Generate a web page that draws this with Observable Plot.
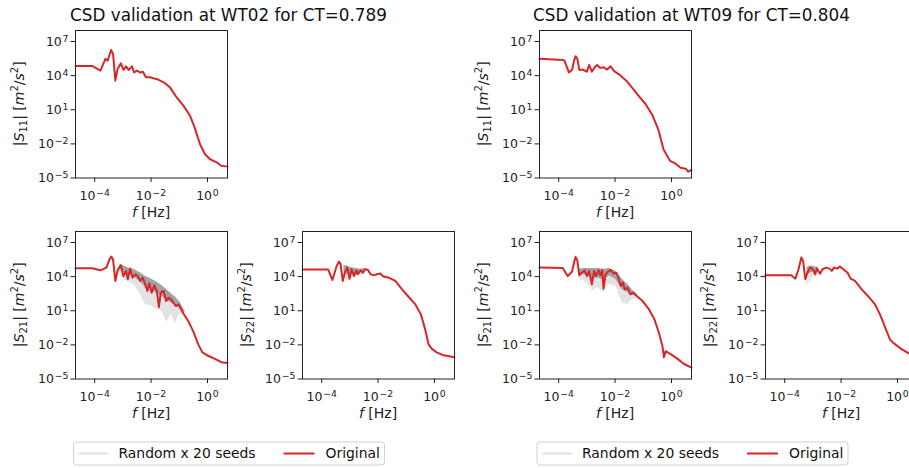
<!DOCTYPE html>
<html>
<head>
<meta charset="utf-8">
<script src="https://cdn.jsdelivr.net/npm/d3@7"></script>
<script src="https://cdn.jsdelivr.net/npm/@observablehq/plot@0.6"></script>
<style>
  html, body { margin: 0; padding: 0; background: #fff; }
  #root { position: relative; width: 909px; height: 468px; overflow: hidden; background: #fff; font-family: "DejaVu Sans", sans-serif; }
  #root svg { position: absolute; }
</style>
</head>
<body>
<div id="root"></div>
<script>
// ---------------- data ----------------
const titles = ["CSD validation at WT02 for CT=0.789", "CSD validation at WT09 for CT=0.804"];
const legendLabels = ["Random x 20 seeds", "Original"];
const xTickValues = [1e-4, 1e-2, 1e0];
const yTickValues = [1e-5, 1e-2, 1e1, 1e4, 1e7];
const xDomain = [2.09e-5, 5.13];
const yDomain = [1e-5, 9.3e7];

// WT02 |S11|
const wt02_s11_f = [2.09e-5, 8.1e-5, 1.6e-4, 2.4e-4, 2.9e-4, 3.8e-4, 4.5e-4, 5.4e-4, 6.5e-4, 8.5e-4, 1.05e-3, 1.3e-3, 1.6e-3, 2.1e-3, 2.5e-3, 3.1e-3, 4.1e-3, 5.1e-3, 6.6e-3, 9.1e-3, 1.2e-2, 1.8e-2, 2.8e-2, 4.7e-2, 8.1e-2, 0.14, 0.24, 0.35, 0.54, 0.81, 1.2, 2.1, 3.1, 5.13];
const wt02_s11 = [7.1e4, 7.1e4, 2.8e4, 3.0e5, 2.1e5, 1.8e6, 7.9e5, 3.6e3, 3.9e4, 1.2e5, 3.2e4, 6.6e4, 3.2e4, 6.6e4, 1.9e4, 2.8e4, 1.9e4, 2.2e4, 7.1e3, 7.1e3, 5.9e3, 4.5e3, 2.6e3, 9.3e2, 1.2e2, 23, 3.0, 0.28, 9.8e-3, 1.3e-3, 4.7e-4, 2.4e-4, 1.2e-4, 1.0e-4];

// WT02 |S21|
const wt02_s21_f = [2.09e-5, 8.1e-5, 1.6e-4, 2.6e-4, 3.4e-4, 3.9e-4, 4.5e-4, 5.4e-4, 6.5e-4, 8.5e-4, 1.05e-3, 1.3e-3, 1.5e-3, 1.8e-3, 2.2e-3, 2.8e-3, 3.4e-3, 4.1e-3, 5.1e-3, 6.2e-3, 7.4e-3, 8.7e-3, 1.05e-2, 1.3e-2, 1.6e-2, 1.9e-2, 2.2e-2, 2.8e-2, 3.4e-2, 4.1e-2, 5.1e-2, 6.2e-2, 7.6e-2, 9.5e-2, 0.14, 0.21, 0.31, 0.47, 0.66, 1.05, 2.1, 3.1, 5.13];
const wt02_s21 = [5.5e4, 5.5e4, 3.6e4, 6.2e4, 3.4e5, 5.8e5, 3.0e5, 4.2e3, 3.6e4, 1.0e5, 1.1e4, 3.2e4, 5.8e3, 5.1e4, 8.1e3, 1.6e4, 1.1e4, 4.2e3, 8.1e3, 2.1e3, 5.5e2, 2.6e3, 3.9e2, 1.7e3, 5.5e2, 21, 3.9e2, 5.5e2, 71, 1.4e2, 1.0e2, 51, 26, 36, 5.8, 1.2, 0.16, 1.1e-2, 2.2e-3, 1.1e-3, 5.1e-4, 3.0e-4, 2.6e-4];
const wt02_s21_band_f = [6.5e-4, 8.1e-4, 1.4e-3, 2.4e-3, 4.1e-3, 6.2e-3, 1.05e-2, 1.6e-2, 2.4e-2, 3.5e-2, 5.4e-2, 7.1e-2, 0.105, 0.16];
const wt02_s21_band_hi = [4.0e4, 1.2e5, 6.2e4, 4.5e4, 2.2e4, 1.1e4, 5.8e3, 3.4e3, 1.7e3, 7.6e2, 2.8e2, 1.7e2, 58, 9.3];
const wt02_s21_band_lo = [3.0e4, 1.1e4, 4.2e3, 2.1e3, 2.8e2, 36, 26, 13, 9.3, 1.0, 4.8, 0.76, 5.8, 3.9];
const wt02_s21_core_lo = [3.5e4, 4.0e4, 1.6e4, 1.0e4, 3.5e3, 1.2e3, 6.0e2, 3.5e2, 2.0e2, 90, 45, 30, 16, 6.5];

// WT02 |S22|
const wt02_s22_f = [2.09e-5, 1.7e-4, 2.4e-4, 3.4e-4, 4.1e-4, 4.7e-4, 5.6e-4, 6.6e-4, 8.1e-4, 9.8e-4, 1.15e-3, 1.4e-3, 1.7e-3, 1.9e-3, 2.4e-3, 2.9e-3, 3.5e-3, 4.4e-3, 5.4e-3, 7.1e-3, 9.1e-3, 1.2e-2, 1.5e-2, 2.4e-2, 4.1e-2, 7.1e-2, 0.12, 0.21, 0.33, 0.47, 0.62, 0.81, 1.2, 2.1, 5.13];
const wt02_s22 = [4.2e4, 4.2e4, 5.1e3, 8.7e4, 2.1e5, 1.2e5, 4.2e3, 2.2e4, 6.2e4, 6.6e3, 4.5e4, 1.1e4, 3.6e4, 1.6e4, 3.6e4, 2.2e4, 4.5e4, 3.9e4, 1.6e4, 1.3e4, 1.6e4, 1.9e4, 1.1e4, 8.1e3, 4.2e3, 7.6e2, 1.7e2, 36, 4.8, 0.22, 1.1e-2, 4.5e-3, 2.2e-3, 1.2e-3, 8.1e-4];
const wt02_s22_band_f = [6.2e-4, 8.1e-4, 1.05e-3, 1.6e-3, 2.4e-3, 3.5e-3];
const wt02_s22_band_hi = [1.0e5, 8.7e4, 6.2e4, 5.1e4, 4.5e4, 5.5e4];
const wt02_s22_band_lo = [1.1e4, 3.4e3, 5.8e3, 1.1e4, 1.3e4, 1.9e4];
const wt02_s22_core_lo = [3.0e4, 1.5e4, 1.5e4, 2.0e4, 2.2e4, 3.0e4];

// WT09 |S11|
const wt09_s11_f = [2.09e-5, 1.4e-4, 1.6e-4, 2.3e-4, 3.0e-4, 3.5e-4, 4.0e-4, 4.6e-4, 5.4e-4, 7.2e-4, 1.0e-3, 1.2e-3, 1.5e-3, 1.9e-3, 2.3e-3, 3.0e-3, 3.9e-3, 5.2e-3, 6.9e-3, 9.5e-3, 1.5e-2, 2.5e-2, 4.2e-2, 7.2e-2, 0.12, 0.21, 0.34, 0.52, 0.89, 1.4, 2.1, 3.2, 3.9, 5.13];
const wt09_s11 = [3.0e5, 2.4e5, 2.1e5, 1.9e4, 3.2e4, 2.1e5, 5.1e5, 3.0e5, 3.2e4, 3.4e4, 2.2e4, 8.7e4, 2.2e4, 5.5e4, 8.7e4, 4.8e4, 5.5e4, 3.4e4, 6.6e4, 2.4e4, 1.1e4, 3.6e3, 7.6e2, 1.4e2, 32, 3.4, 0.19, 3.4e-3, 3.2e-4, 1.8e-4, 8.1e-5, 6.6e-5, 3.6e-5, 5.1e-5];

// WT09 |S21|
const wt09_s21_f = [2.09e-5, 1.4e-4, 2.1e-4, 3.0e-4, 3.5e-4, 4.0e-4, 4.6e-4, 5.4e-4, 6.6e-4, 8.3e-4, 1.0e-3, 1.2e-3, 1.5e-3, 1.8e-3, 2.1e-3, 2.6e-3, 3.0e-3, 3.5e-3, 3.9e-3, 4.6e-3, 5.5e-3, 6.9e-3, 8.7e-3, 1.1e-2, 1.3e-2, 1.6e-2, 1.9e-2, 2.2e-2, 2.8e-2, 3.5e-2, 4.4e-2, 6.3e-2, 9.5e-2, 0.16, 0.25, 0.36, 0.48, 0.54, 0.62, 0.91, 1.6, 2.7, 5.13];
const wt09_s21 = [6.2e4, 5.8e4, 1.1e4, 2.8e4, 1.7e5, 5.5e5, 2.4e5, 1.3e4, 2.2e4, 3.6e4, 1.1e4, 3.2e4, 2.1e3, 3.2e4, 1.1e4, 3.9e4, 1.3e4, 3.6e4, 8.7e2, 1.6e4, 2.6e4, 3.9e4, 1.9e4, 2.2e4, 8.1e3, 1.5e3, 3.0e3, 7.6e2, 1.1e3, 2.8e2, 3.9e2, 1.7e2, 71, 13, 1.7, 0.11, 7.6e-3, 8.1e-4, 2.8e-3, 1.6e-3, 6.2e-4, 2.2e-4, 1.0e-4];
const wt09_s21_band_f = [5.4e-4, 8.1e-4, 1.2e-3, 1.6e-3, 2.4e-3, 3.9e-3, 6.2e-3, 1.05e-2, 1.8e-2, 2.8e-2, 4.1e-2, 6.2e-2];
const wt09_s21_band_hi = [4.5e4, 5.1e4, 5.1e4, 5.1e4, 5.1e4, 4.5e4, 5.1e4, 3.2e4, 5.8e3, 2.1e3, 6.6e2, 2.8e2];
const wt09_s21_band_lo = [5.8e3, 4.2e3, 1.7e3, 5.5e2, 1.1e3, 3.9e2, 2.1e3, 1.5e3, 45, 36, 1.0e2, 1.1e2];
const wt09_s21_core_lo = [1.5e4, 1.5e4, 1.0e4, 6.0e3, 8.0e3, 5.0e3, 1.2e4, 6.0e3, 7.0e2, 4.0e2, 2.5e2, 1.6e2];

// WT09 |S22|
const wt09_s22_f = [2.09e-5, 1.7e-4, 2.4e-4, 3.1e-4, 3.9e-4, 4.5e-4, 5.4e-4, 6.5e-4, 8.1e-4, 1.0e-3, 1.2e-3, 1.4e-3, 1.8e-3, 2.2e-3, 3.0e-3, 3.9e-3, 4.7e-3, 5.6e-3, 7.4e-3, 9.1e-3, 1.2e-2, 1.7e-2, 2.2e-2, 3.1e-2, 5.4e-2, 9.1e-2, 0.16, 0.24, 0.35, 0.54, 0.71, 1.2, 2.4, 5.13];
const wt09_s22 = [1.3e4, 1.3e4, 6.6e3, 4.5e4, 4.8e5, 2.4e5, 5.8e3, 2.6e4, 6.2e4, 4.5e4, 1.6e4, 5.1e4, 1.8e4, 4.5e4, 6.2e4, 5.1e4, 3.2e4, 6.2e4, 5.1e4, 7.6e4, 4.5e4, 2.2e4, 6.6e3, 4.2e3, 7.6e2, 1.9e2, 36, 4.8, 0.45, 3.0e-2, 1.5e-2, 5.5e-3, 1.9e-3, 7.9e-4];
const wt09_s22_band_f = [6.2e-4, 8.1e-4, 1.05e-3, 1.6e-3];
const wt09_s22_band_hi = [6.2e4, 8.7e4, 7.6e4, 6.2e4];
const wt09_s22_band_lo = [1.5e3, 4.2e3, 1.1e4, 1.3e4];
const wt09_s22_core_lo = [1.2e4, 2.0e4, 2.5e4, 2.5e4];

// ---------------- helpers ----------------
const rows = (f, s) => f.map((v, i) => ({f: v, s: s[i]}));
const bandRows = (f, lo, hi, core) => f.map((v, i) => ({f: v, lo: lo[i], hi: hi[i], core: core[i]}));
const fmt = v => "10^" + Math.round(Math.log10(v));

const RED = "#d62728";
const FW = 152, FH = 147.5;
const ML = 62, MR = 6, MT = 6, MB = 46;
const root = document.getElementById("root");

const panels = [
  {left: 75,  top: 30,  sub: "11", line: rows(wt02_s11_f, wt02_s11), band: null},
  {left: 75,  top: 231, sub: "21", line: rows(wt02_s21_f, wt02_s21), band: bandRows(wt02_s21_band_f, wt02_s21_band_lo, wt02_s21_band_hi, wt02_s21_core_lo)},
  {left: 301.5, top: 231, sub: "22", line: rows(wt02_s22_f, wt02_s22), band: bandRows(wt02_s22_band_f, wt02_s22_band_lo, wt02_s22_band_hi, wt02_s22_core_lo)},
  {left: 539, top: 30,  sub: "11", line: rows(wt09_s11_f, wt09_s11), band: null},
  {left: 539, top: 231, sub: "21", line: rows(wt09_s21_f, wt09_s21), band: bandRows(wt09_s21_band_f, wt09_s21_band_lo, wt09_s21_band_hi, wt09_s21_core_lo)},
  {left: 765, top: 231, sub: "22", line: rows(wt09_s22_f, wt09_s22), band: bandRows(wt09_s22_band_f, wt09_s22_band_lo, wt09_s22_band_hi, wt09_s22_core_lo)}
];

for (const p of panels) {
  const marks = [];
  if (p.band) {
    marks.push(Plot.areaY(p.band, {x: "f", y1: "lo", y2: "hi", fill: "#9a9a9a", fillOpacity: 0.28}));
    marks.push(Plot.areaY(p.band, {x: "f", y1: "core", y2: "hi", fill: "#555", fillOpacity: 0.45}));
  }
  marks.push(Plot.line(p.line, {x: "f", y: "s", stroke: RED, strokeWidth: 2, strokeLinejoin: "round"}));
  marks.push(Plot.frame({stroke: "#222", strokeWidth: 1}));
  const svg = Plot.plot({
    width: ML + FW + MR, height: MT + FH + MB,
    marginLeft: ML, marginRight: MR, marginTop: MT, marginBottom: MB,
    style: {fontFamily: "DejaVu Sans", fontSize: "12.5px", color: "#222", background: "transparent", overflow: "visible"},
    x: {type: "log", domain: xDomain, ticks: xTickValues, tickFormat: fmt, tickSize: 4.5, tickPadding: 8.5, label: null},
    y: {type: "log", domain: yDomain, ticks: yTickValues, tickFormat: fmt, tickSize: 4.5, tickPadding: 2.5, label: null},
    marks
  });
  svg.style.left = (p.left - ML) + "px";
  svg.style.top = (p.top - MT) + "px";
  svg.style.maxWidth = "none";
  const s = d3.select(svg);
  // tick labels as 10 with a raised exponent
  s.selectAll("text").each(function () {
    const m = /^10\^(-?\d+)$/.exec(this.textContent);
    if (!m) return;
    const t = d3.select(this);
    t.text(null);
    t.append("tspan").text("10");
    t.append("tspan").attr("font-size", "9.3px").attr("dx", 0.8).attr("dy", "-0.42em").text(m[1].replace("-", "\u2212"));
  });
  // y label: |S_xx| [m^2/s^2]
  const yl = s.append("text")
    .attr("transform", `translate(${ML - 51.5},${MT + FH / 2}) rotate(-90)`)
    .attr("text-anchor", "middle").attr("font-size", "14px").attr("fill", "#222");
  yl.append("tspan").text("|");
  yl.append("tspan").attr("font-style", "italic").text("S");
  yl.append("tspan").attr("font-size", "10px").attr("dy", 3).text(p.sub);
  yl.append("tspan").attr("dy", -3).text("| [");
  yl.append("tspan").attr("font-style", "italic").text("m");
  yl.append("tspan").attr("font-size", "10px").attr("dy", -5.5).text("2");
  yl.append("tspan").attr("dy", 5.5).text("/");
  yl.append("tspan").attr("font-style", "italic").text("s");
  yl.append("tspan").attr("font-size", "10px").attr("dy", -5.5).text("2");
  yl.append("tspan").attr("dy", 5.5).text("]");
  // x label: f [Hz]
  const xl = s.append("text")
    .attr("x", ML + FW / 2).attr("y", MT + FH + 39.5)
    .attr("text-anchor", "middle").attr("font-size", "14px").attr("fill", "#222");
  xl.append("tspan").attr("font-style", "italic").text("f");
  xl.append("tspan").text(" [Hz]");
  root.appendChild(svg);
}

// ---------------- titles and legends overlay ----------------
const ov = d3.select(root).append("svg")
  .attr("width", 909).attr("height", 468)
  .style("left", "0px").style("top", "0px").style("pointer-events", "none");
const groups = [{cx: 228.5, lx: 73.5}, {cx: 691.5, lx: 537}];
groups.forEach((g, i) => {
  ov.append("text").attr("x", g.cx).attr("y", 20.5).attr("text-anchor", "middle")
    .attr("font-family", "DejaVu Sans").attr("font-size", "16.8px").attr("fill", "#111").text(titles[i]);
  const lg = ov.append("g").attr("transform", `translate(${g.lx},442)`);
  lg.append("rect").attr("x", 0).attr("y", 0).attr("width", 311).attr("height", 23).attr("rx", 3)
    .attr("fill", "#fff").attr("stroke", "#d0d0d0").attr("stroke-width", 1);
  lg.append("line").attr("x1", 5).attr("x2", 35).attr("y1", 11.5).attr("y2", 11.5)
    .attr("stroke", "#9a9a9a").attr("stroke-opacity", 0.3).attr("stroke-width", 2);
  lg.append("text").attr("x", 45).attr("y", 16).attr("font-family", "DejaVu Sans").attr("font-size", "13.9px")
    .attr("fill", "#111").text(legendLabels[0]);
  lg.append("line").attr("x1", 210).attr("x2", 241).attr("y1", 11.5).attr("y2", 11.5)
    .attr("stroke", RED).attr("stroke-width", 2);
  lg.append("text").attr("x", 252).attr("y", 16).attr("font-family", "DejaVu Sans").attr("font-size", "13.9px")
    .attr("fill", "#111").text(legendLabels[1]);
});
</script>
</body>
</html>
